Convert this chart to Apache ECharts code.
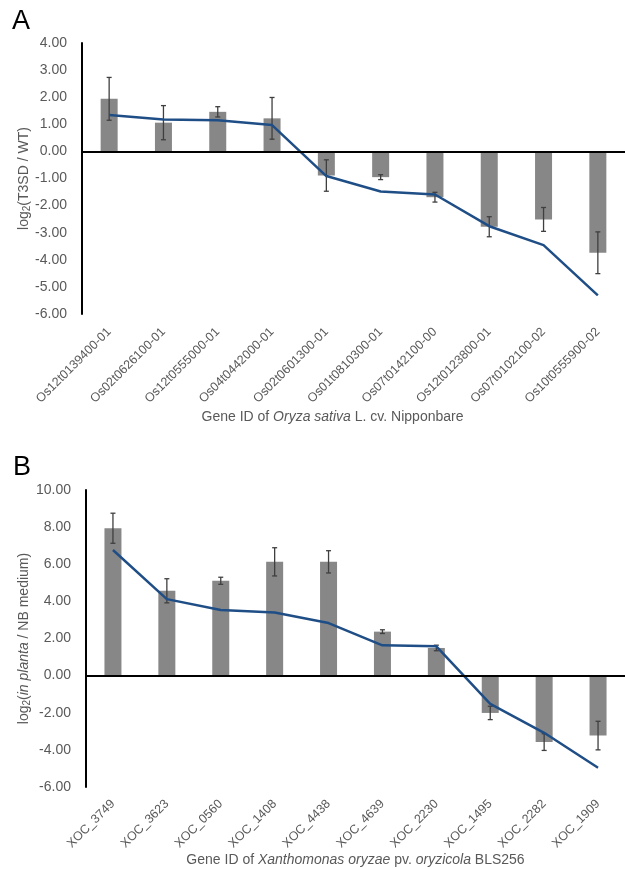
<!DOCTYPE html>
<html>
<head>
<meta charset="utf-8">
<script src="https://cdn.jsdelivr.net/npm/echarts@6/dist/echarts.min.js"></script>
<style>
html,body{margin:0;padding:0;background:#fff;}
#chart{width:625px;height:869px;}
</style>
</head>
<body>
<div id="chart"></div>
<script>
// Panel A data
const catsA = ['Os12t0139400-01','Os02t0626100-01','Os12t0555000-01','Os04t0442000-01','Os02t0601300-01','Os01t0810300-01','Os07t0142100-00','Os12t0123800-01','Os07t0102100-02','Os10t0555900-02'];
const barsA = [1.94, 1.06, 1.46, 1.22, -0.89, -0.95, -1.69, -2.78, -2.51, -3.74];
const errA  = [0.79, 0.63, 0.19, 0.77, 0.58, 0.09, 0.18, 0.37, 0.44, 0.77];
const lineA = [1.34, 1.18, 1.15, 0.97, -0.91, -1.48, -1.59, -2.76, -3.46, -5.31];

// Panel B data
const catsB = ['XOC_3749','XOC_3623','XOC_0560','XOC_1408','XOC_4438','XOC_4639','XOC_2230','XOC_1495','XOC_2282','XOC_1909'];
const barsB = [7.94, 4.57, 5.11, 6.13, 6.13, 2.37, 1.49, -2.01, -3.58, -3.23];
const errB  = [0.81, 0.65, 0.19, 0.76, 0.60, 0.10, 0.15, 0.36, 0.45, 0.77];
const lineB = [6.77, 4.12, 3.53, 3.40, 2.83, 1.63, 1.58, -1.52, -3.08, -4.96];

// Axis ranges
const yA = {min: -6, max: 4, interval: 1};
const yB = {min: -6, max: 10, interval: 2};

const FONT = "'Liberation Sans', Arial, sans-serif";
const GRAY = '#595959';
const BAR = '#878787';
const LINE = '#1f4e86';
const ERR = '#3f3f3f';

function errData(bars, err){
  return bars.map((v,i)=>[i, v-err[i], v+err[i]]);
}
function renderErr(params, api){
  const x = api.value(0), lo = api.value(1), hi = api.value(2);
  const p1 = api.coord([x, hi]), p2 = api.coord([x, lo]);
  const w = 2.5;
  const st = {stroke: ERR, lineWidth: 1.3};
  return {type:'group', children:[
    {type:'line', shape:{x1:p1[0], y1:p1[1], x2:p2[0], y2:p2[1]}, style:st},
    {type:'line', shape:{x1:p1[0]-w, y1:p1[1], x2:p1[0]+w, y2:p1[1]}, style:st},
    {type:'line', shape:{x1:p2[0]-w, y1:p2[1], x2:p2[0]+w, y2:p2[1]}, style:st}
  ]};
}
const richBase = {
  a:{fontSize:14, color:GRAY, fontFamily:FONT},
  i:{fontSize:14, color:GRAY, fontFamily:FONT, fontStyle:'italic'},
  s:{fontSize:10, color:GRAY, fontFamily:FONT, verticalAlign:'bottom', padding:[6,0,0,0]}
};

function xAxisFor(cats, gridIndex, name, nameGap, pad, margin){
  return {
    type:'category', gridIndex, data: cats,
    position:'bottom',
    axisLine:{show:false, onZero:false},
    axisTick:{show:false},
    axisLabel:{rotate:45, interval:0, fontSize:12.5, color:GRAY, fontFamily:FONT, margin},
    name, nameLocation:'middle', nameGap, nameMoveOverlap:false,
    nameTextStyle:{rich:richBase, padding:pad}
  };
}
function yAxisFor(r, gridIndex, name, nameGap){
  return {
    type:'value', gridIndex, min:r.min, max:r.max, interval:r.interval,
    axisLine:{show:true, lineStyle:{color:'#000', width:2}},
    axisTick:{show:false},
    splitLine:{show:false},
    axisLabel:{fontSize:14, color:GRAY, fontFamily:FONT, margin:15, formatter:v=>v.toFixed(2)},
    name, nameLocation:'middle', nameGap, nameRotate:90, nameMoveOverlap:false,
    nameTextStyle:{rich:richBase}
  };
}
function seriesFor(bars, err, line, idx){
  return [
    {type:'bar', xAxisIndex:idx, yAxisIndex:idx, data:bars, barWidth:17,
     itemStyle:{color:BAR}, z:2,
     markLine:{silent:true, symbol:'none', label:{show:false},
       lineStyle:{color:'#000', width:2, type:'solid'}, data:[{yAxis:0}]}},
    {type:'custom', xAxisIndex:idx, yAxisIndex:idx, data:errData(bars, err), renderItem:renderErr, z:3},
    {type:'line', xAxisIndex:idx, yAxisIndex:idx, data:line, showSymbol:false, symbol:'none',
     lineStyle:{color:LINE, width:2.5}, z:4}
  ];
}

const chart = echarts.init(document.getElementById('chart'), null, {renderer:'canvas'});
chart.setOption({
  backgroundColor:'#fff',
  animation:false,
  textStyle:{fontFamily:FONT},
  graphic:[
    {type:'text', left:12, top:8, style:{text:'A', fontSize:27, fontFamily:FONT, fill:'#000'}},
    {type:'text', left:13, top:454, style:{text:'B', fontSize:27, fontFamily:FONT, fill:'#000'}}
  ],
  grid:[
    {left:82, top:43, right:-12, bottom:555},
    {left:86, top:490, right:-12, bottom:82}
  ],
  xAxis:[
    xAxisFor(catsA, 0, '{a|Gene ID of }{i|Oryza sativa}{a| L. cv. Nipponbare}', 96, [0,42,0,0], 16),
    xAxisFor(catsB, 1, '{a|Gene ID of }{i|Xanthomonas oryzae}{a| pv. }{i|oryzicola}{a| BLS256}', 66, [0,0,0,0], 15)
  ],
  yAxis:[
    yAxisFor(yA, 0, '{a|log}{s|2}{a|(T3SD / WT)}', 50),
    yAxisFor(yB, 1, '{a|log}{s|2}{a|(}{i|in planta}{a| / NB medium)}', 54)
  ],
  series:[...seriesFor(barsA, errA, lineA, 0), ...seriesFor(barsB, errB, lineB, 1)]
});
</script>
</body>
</html>
